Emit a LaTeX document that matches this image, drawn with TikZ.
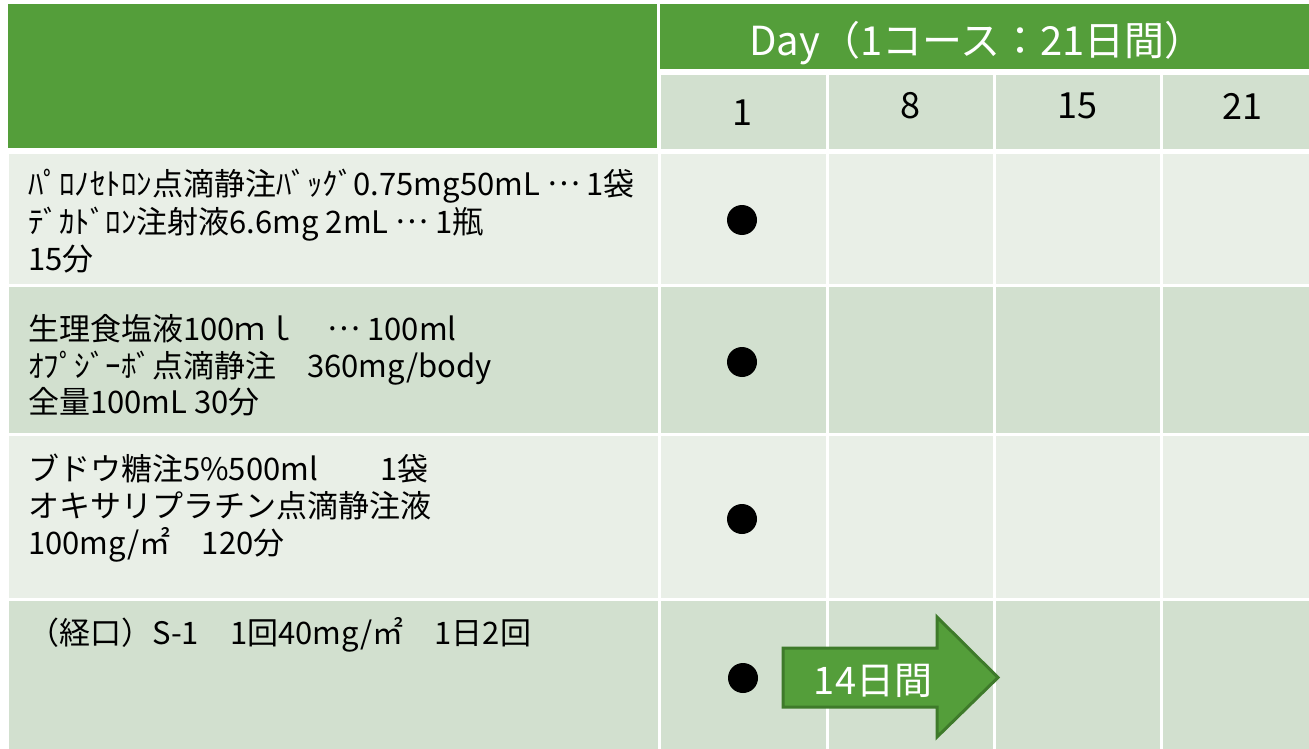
\documentclass[tikz,border=0pt]{standalone}
\usepackage{fontspec}
\setmainfont{Noto Sans CJK JP}
\newcommand\midell{\raisebox{0.3em}{…}}
\definecolor{hgreen}{RGB}{84,158,58}
\definecolor{agreen}{RGB}{62,122,42}
\definecolor{rowlight}{RGB}{233,239,231}
\definecolor{rowdark}{RGB}{210,224,207}
\tikzset{
  bodytext/.style={anchor=base west,inner sep=0pt,text=black,font=\fontsize{31}{37}\selectfont},
  daynum/.style={inner sep=0pt,text=black,font=\fontsize{36}{40}\selectfont},
  dotmark/.style={circle,fill=black,minimum size=30pt,inner sep=0pt},
  arrowshape/.style={fill=hgreen,draw=agreen,line width=3pt,line join=miter},
}
\begin{document}
\begin{tikzpicture}[x=1pt,y=-1pt]
\useasboundingbox (0,0) rectangle (1309,749);
% header
\fill[hgreen] (8,4) rectangle (657,148);
\fill[hgreen] (660,4) rectangle (1309,69);
\node[text=white,inner sep=0pt,font=\fontsize{40}{44}\selectfont] (title) at (977,43) {Day（1コース：21日間）};
% day row
\foreach \a/\b in {661/826,829/993,996/1160,1163/1309}{
  \fill[rowdark] (\a,75) rectangle (\b,149);
}
\node[daynum] (n1) at (742,113) {1};
\node[daynum] (n8) at (910,106) {8};
\node[daynum] (n15) at (1077,106) {15};
\node[daynum] (n21) at (1242,106) {21};
% body rows
\foreach \t/\u/\c in {154/284/rowlight,287/433/rowdark,436/598/rowlight,601/749/rowdark}{
  \fill[\c] (9,\t) rectangle (658,\u);
  \foreach \a/\b in {661/826,829/993,996/1160,1163/1309}{
    \fill[\c] (\a,\t) rectangle (\b,\u);
  }
}
% texts
\node[bodytext] (r1a) at (28,195) {ﾊﾟﾛﾉｾﾄﾛﾝ点滴静注ﾊﾞｯｸﾞ0.75mg50mL \midell{} 1袋};
\node[bodytext] (r1b) at (28,233) {ﾃﾞｶﾄﾞﾛﾝ注射液6.6mg 2mL \midell{} 1瓶};
\node[bodytext] (r1c) at (28,270) {15分};
\node[bodytext] (r2a) at (28,340) {生理食塩液100ｍｌ　\midell{} 100ml};
\node[bodytext] (r2b) at (28,377) {ｵﾌﾟｼﾞｰﾎﾞ点滴静注　360mg/body};
\node[bodytext] (r2c) at (28,413) {全量100mL 30分};
\node[bodytext] (r3a) at (28,480) {ブドウ糖注5\%500ml　　1袋};
\node[bodytext] (r3b) at (28,517) {オキサリプラチン点滴静注液};
\node[bodytext] (r3c) at (28,554) {100mg/㎡　120分};
\node[bodytext] (r4a) at (28,644) {（経口）S-1　1回40mg/㎡　1日2回};
% dots
\node[dotmark] (d1) at (742,220) {};
\node[dotmark] (d2) at (742,362) {};
\node[dotmark] (d3) at (742,519) {};
\node[dotmark] (d4) at (743,678) {};
% arrow
\draw[arrowshape] (783,648) -- (937,648) -- (937,617) -- (998,677.5) -- (937,737) -- (937,707) -- (783,707) -- cycle;
\node[text=white,inner sep=0pt,font=\fontsize{38}{42}\selectfont] (arrowlabel) at (873,681) {14日間};
\end{tikzpicture}
\end{document}
